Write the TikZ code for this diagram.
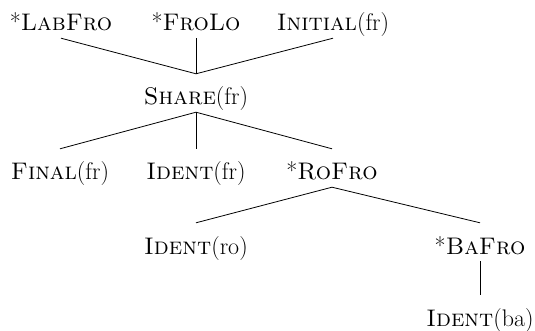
\documentclass[tikz,border=0pt]{standalone}
\begin{document}
\begin{tikzpicture}[x=1pt,y=-1pt,
  cn/.style={anchor=base,inner xsep=0pt,inner ysep=0pt,text height=31pt,text depth=7pt,font=\fontsize{24}{28}\selectfont},
  ln/.style={line width=0.8pt}]
\useasboundingbox (0,0) rectangle (535,331);
\node[cn] (labfro) at (61,31) {*\textsc{LabFro}};
\node[cn] (frolo) at (196,31) {*\textsc{FroLo}};
\node[cn] (initial) at (333,31) {\textsc{Initial}(fr)};
\node[cn] (share) at (196,105) {\textsc{Share}(fr)};
\node[cn] (final) at (60,180) {\textsc{Final}(fr)};
\node[cn] (identfr) at (196,180) {\textsc{Ident}(fr)};
\node[cn] (rofro) at (332,180) {*\textsc{RoFro}};
\node[cn] (identro) at (196,254) {\textsc{Ident}(ro)};
\node[cn] (bafro) at (480,254) {*\textsc{BaFro}};
\node[cn] (identba) at (480,326) {\textsc{Ident}(ba)};
\draw[ln] (labfro.south) -- (share.north);
\draw[ln] (frolo.south) -- (share.north);
\draw[ln] (initial.south) -- (share.north);
\draw[ln] (share.south) -- (final.north);
\draw[ln] (share.south) -- (identfr.north);
\draw[ln] (share.south) -- (rofro.north);
\draw[ln] (rofro.south) -- (identro.north);
\draw[ln] (rofro.south) -- (bafro.north);
\draw[ln] (bafro.south) -- (identba.north);
\end{tikzpicture}
\end{document}
